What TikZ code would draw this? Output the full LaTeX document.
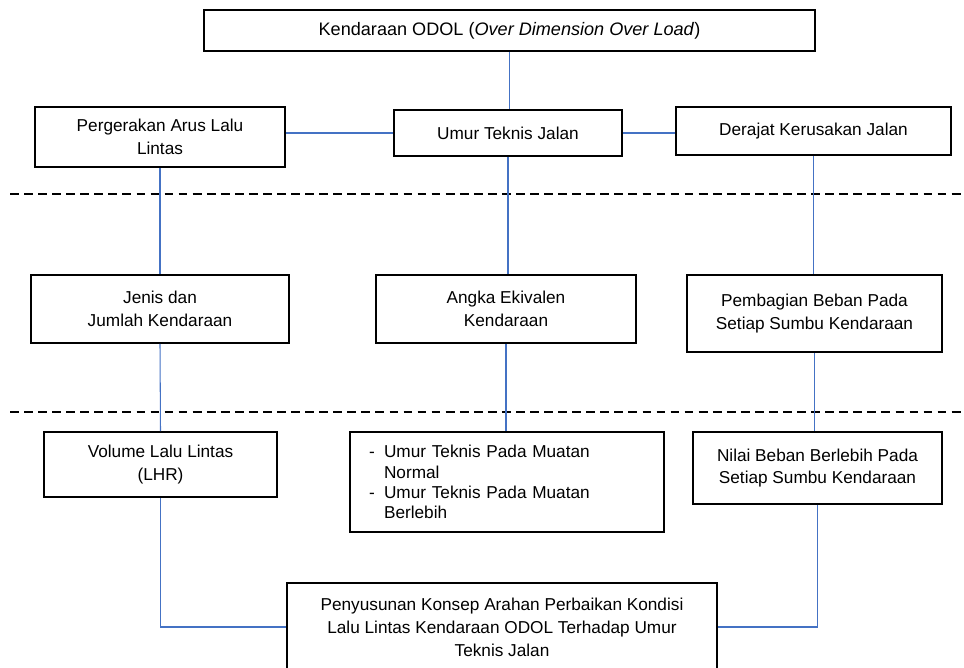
\documentclass[tikz,border=0pt]{standalone}
\usepackage{fontspec}
\setmainfont{Liberation Sans}
\usepackage{tikz}
\definecolor{linkblue}{RGB}{68,114,196}

\begin{document}
\begin{tikzpicture}[x=0.02cm, y=-0.02cm, font=\fontsize{9.8}{13}\selectfont]
    \tikzstyle{box} = [draw, line width=1.1pt, align=center, inner sep=0pt]
    \tikzstyle{link} = [draw=linkblue, line width=0.6pt]
    \tikzstyle{sep} = [draw, line width=0.9pt, dash pattern=on 5pt off 3pt]
    \path[use as bounding box, clip] (0, 0) rectangle (964, 667);
    \draw[sep] (10, 194) -- (964, 194);
    \draw[sep] (10, 412) -- (964, 412);
    \node (odol) at (509.5, 30.5) [box, minimum width=12.22cm, minimum height=0.82cm, font=\fontsize{10.3}{13}\selectfont] {Kendaraan ODOL (\textit{Over Dimension Over Load})};
    \node (gerak) at (160, 137) [box, minimum width=5cm, minimum height=1.2cm] {Pergerakan Arus Lalu\\Lintas};
    \node (umur) at (508, 133) [box, minimum width=4.56cm, minimum height=0.92cm] {Umur Teknis Jalan};
    \node (rusak) at (813.5, 131) [box, minimum width=5.5cm, minimum height=0.96cm] {Derajat Kerusakan Jalan};
    \node (jenis) at (160, 309) [box, minimum width=5.16cm, minimum height=1.36cm] {Jenis dan\\Jumlah Kendaraan};
    \node (angka) at (506, 309) [box, minimum width=5.2cm, minimum height=1.36cm] {Angka Ekivalen\\Kendaraan};
    \node (bagi) at (814.5, 313.5) [box, minimum width=5.1cm, minimum height=1.54cm] {Pembagian Beban Pada\\Setiap Sumbu Kendaraan};
    \node (volume) at (160.5, 464.5) [box, minimum width=4.66cm, minimum height=1.3cm] {Volume Lalu Lintas\\(LHR)};
    \node (muatan) at (507, 482) [box, minimum width=6.28cm, minimum height=2cm, text width=5.52cm, inner xsep=0.38cm, align=left, font=\fontsize{9.8}{11.5}\selectfont]
      {\makebox[0.3cm][l]{-}Umur Teknis Pada Muatan\\\makebox[0.3cm][l]{}Normal\\\makebox[0.3cm][l]{-}Umur Teknis Pada Muatan\\\makebox[0.3cm][l]{}Berlebih};
    \node (nilai) at (817.5, 468) [box, minimum width=4.98cm, minimum height=1.44cm] {Nilai Beban Berlebih Pada\\Setiap Sumbu Kendaraan};
    \node (konsep) at (502, 627) [box, minimum width=8.6cm, minimum height=1.76cm] {Penyusunan Konsep Arahan Perbaikan Kondisi\\Lalu Lintas Kendaraan ODOL Terhadap Umur\\Teknis Jalan};
    \draw[link] (odol.south) -- (odol.south |- umur.north);
    \draw[link, line width=1pt] (umur.west) -- (umur.west -| gerak.east);
    \draw[link] (umur.east) -- (umur.east -| rusak.west);
    \draw[link] (gerak.south) -- (jenis.north);
    \draw[link] (umur.south) -- (umur.south |- angka.north);
    \draw[link] (rusak.south) -- (rusak.south |- bagi.north);
    \draw[link] (jenis.south) -- (volume.north);
    \draw[link] (angka.south) -- (angka.south |- muatan.north);
    \draw[link] (bagi.south) -- (bagi.south |- nilai.north);
    \draw[link] (volume.south) |- (konsep.west);
    \draw[link] (nilai.south) |- (konsep.east);
\end{tikzpicture}
\end{document}
